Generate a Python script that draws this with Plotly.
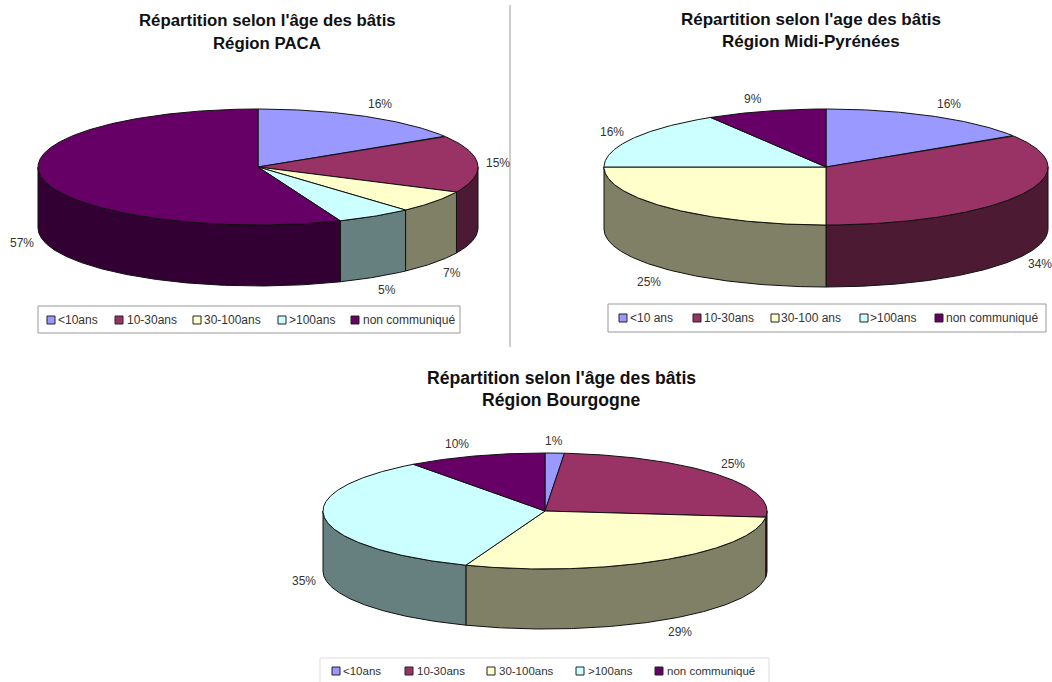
import numpy as np
import plotly.graph_objects as go

# ---- data -----------------------------------------------------------------
paca_shares = [16.1, 16.0, 6.2, 5.6, 56.1]
paca_labels = ["16%", "15%", "7%", "5%", "57%"]
paca_legend = ["<10ans", "10-30ans", "30-100ans", ">100ans", "non communiqué"]
paca_title = ["Répartition selon l'âge des bâtis", "Région PACA"]

midi_shares = [15.9, 34.1, 25.0, 16.3, 8.7]
midi_labels = ["16%", "34%", "25%", "16%", "9%"]
midi_legend = ["<10 ans", "10-30ans", "30-100 ans", ">100ans", "non communiqué"]
midi_title = ["Répartition selon l'age des bâtis", "Région Midi-Pyrénées"]

bour_shares = [1.4, 25.3, 29.1, 34.1, 10.1]
bour_labels = ["1%", "25%", "29%", "35%", "10%"]
bour_legend = ["<10ans", "10-30ans", "30-100ans", ">100ans", "non communiqué"]
bour_title = ["Répartition selon l'âge des bâtis", "Région Bourgogne"]

top_colors = ["#9999FF", "#993366", "#FFFFCC", "#CCFFFF", "#660066"]
side_colors = ["#666699", "#4D1A33", "#808066", "#668080", "#330033"]

# ---- layout ---------------------------------------------------------------
W, H = 1052, 682
EDGE = "#111111"
TXT = "#333333"
charts = [
    dict(shares=paca_shares, labels=paca_labels, legend=paca_legend, title=paca_title,
         cx=258, cy=167, rx=220, ry=58, depth=61,
         label_xy=[(380, 104), (498, 163), (452, 273), (387, 290), (22, 243)],
         title_xy=(267, 20, 43), title_size=16.8,
         box=(38, 306, 460, 333, "#999999"), swatch_x=[51, 119, 197, 282, 355],
         text_x=[58, 127, 204, 289, 363], leg_y=320, leg_size=12),
    dict(shares=midi_shares, labels=midi_labels, legend=midi_legend, title=midi_title,
         cx=826, cy=167, rx=222, ry=58, depth=62,
         label_xy=[(949, 104), (1040, 264), (649, 282), (612, 132), (753, 99)],
         title_xy=(811, 19, 41), title_size=17,
         box=(608, 304, 1046, 332, "#999999"), swatch_x=[623, 697, 775, 864, 939],
         text_x=[630, 704, 781, 870, 946], leg_y=318, leg_size=12),
    dict(shares=bour_shares, labels=bour_labels, legend=bour_legend, title=bour_title,
         cx=545, cy=511, rx=222, ry=58, depth=60,
         label_xy=[(554, 441), (733, 464), (680, 632), (304, 581), (457, 444)],
         title_xy=(561, 378, 400), title_size=17.6,
         box=(320, 658, 769, 700, "#DDDDDD"), swatch_x=[336, 409, 491, 580, 659],
         text_x=[343, 417, 499, 588, 667], leg_y=671, leg_size=11.5),
]


def arc(c, a0, a1, dy=0.0):
    t = np.radians(np.linspace(a0, a1, max(int(abs(a1 - a0)) * 2, 2) + 1))
    return c["cx"] + c["rx"] * np.sin(t), c["cy"] - c["ry"] * np.cos(t) + dy


fig = go.Figure()
shapes, annots = [], []

# divider between the two upper charts
shapes.append(dict(type="line", x0=510, x1=510, y0=5, y1=347,
                   line=dict(color="#999999", width=1)))

for c in charts:
    edges = np.concatenate([[0], np.cumsum(c["shares"])]) / sum(c["shares"]) * 360

    # outer wall: only the part facing the viewer
    for i in range(len(c["shares"])):
        a0, a1 = max(edges[i], 90), min(edges[i + 1], 270)
        if a1 <= a0:
            continue
        xt, yt = arc(c, a0, a1)
        xb, yb = arc(c, a1, a0, c["depth"])
        fig.add_trace(go.Scatter(
            x=np.r_[xt, xb, xt[0]], y=np.r_[yt, yb, yt[0]], mode="lines",
            fill="toself", fillcolor=side_colors[i], line=dict(color=EDGE, width=1),
            hoverinfo="skip", showlegend=False))

    # top slices
    for i in range(len(c["shares"])):
        xt, yt = arc(c, edges[i], edges[i + 1])
        fig.add_trace(go.Scatter(
            x=np.r_[c["cx"], xt, c["cx"]], y=np.r_[c["cy"], yt, c["cy"]], mode="lines",
            fill="toself", fillcolor=top_colors[i], line=dict(color=EDGE, width=1),
            name=c["legend"][i], hoverinfo="skip", showlegend=False))

    # percentage labels
    for txt, (lx, ly) in zip(c["labels"], c["label_xy"]):
        annots.append(dict(x=lx, y=ly, text=txt, showarrow=False,
                           font=dict(size=12, color=TXT)))

    # title lines
    tx, ty0, ty1 = c["title_xy"]
    for line, ty in zip(c["title"], (ty0, ty1)):
        annots.append(dict(x=tx, y=ty, text=f"<b>{line}</b>", showarrow=False,
                           font=dict(size=c["title_size"], color="#111111")))

    # legend box
    bx0, by0, bx1, by1, bcol = c["box"]
    shapes.append(dict(type="rect", x0=bx0, y0=by0, x1=bx1, y1=by1,
                       line=dict(color=bcol, width=1), fillcolor="white"))
    for col, sx, tx2, name in zip(top_colors, c["swatch_x"], c["text_x"], c["legend"]):
        shapes.append(dict(type="rect", x0=sx - 4, x1=sx + 4,
                           y0=c["leg_y"] - 4, y1=c["leg_y"] + 4,
                           line=dict(color="#222222", width=1), fillcolor=col))
        annots.append(dict(x=tx2, y=c["leg_y"], text=name.replace("<", "&lt;"), showarrow=False,
                           xanchor="left", xshift=-2, font=dict(size=c["leg_size"], color=TXT)))

fig.update_layout(
    width=W, height=H, margin=dict(l=0, r=0, t=0, b=0),
    paper_bgcolor="white", plot_bgcolor="white", showlegend=False,
    font=dict(family="Liberation Sans, Arial, sans-serif"),
    xaxis=dict(range=[0, W], visible=False, fixedrange=True),
    yaxis=dict(range=[H, 0], visible=False, fixedrange=True),
    shapes=shapes, annotations=annots,
)
fig.write_html("out.html", config=dict(displayModeBar=False),
               post_script="document.body.style.margin='0';document.body.style.overflow='hidden';")
